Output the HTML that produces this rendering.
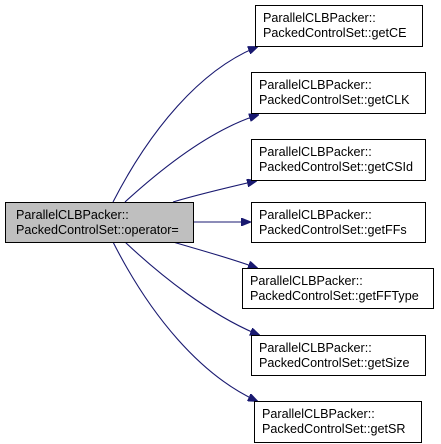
<!DOCTYPE html>
<html><head><meta charset="utf-8"><style>
html,body{margin:0;padding:0;background:#fff;}
svg{display:block;}
text{font-family:"Liberation Sans",Arial,sans-serif;font-size:12.6px;fill:#000;}
</style></head><body>
<svg width="441" height="444" viewBox="0 0 441 444" xmlns="http://www.w3.org/2000/svg">
<defs><marker id="a" markerWidth="10" markerHeight="8" refX="9" refY="4" orient="auto" markerUnits="userSpaceOnUse"><polygon points="0,0 10,4 0,8" fill="#191970" stroke="#191970"/></marker></defs>
<g fill="none" stroke="#191970" stroke-width="1.1">
<path d="M113,202 C150,130 200,70 257,47" marker-end="url(#a)"/>
<path d="M125,202 C160,170 210,130 258,115" marker-end="url(#a)"/>
<path d="M173,202 C200,194 230,187 256,181" marker-end="url(#a)"/>
<path d="M193,222 L250,222" marker-end="url(#a)"/>
<path d="M173,242 C200,250 230,258 257,268" marker-end="url(#a)"/>
<path d="M125,242 C160,275 210,315 259,335" marker-end="url(#a)"/>
<path d="M113,242 C150,315 200,375 257,401" marker-end="url(#a)"/>
</g>
<g stroke="#000" stroke-width="1">
<rect x="5.5" y="202.5" width="188" height="40" fill="#bfbfbf"/>
<rect x="255.5" y="5.5" width="167" height="41" fill="#fff"/>
<rect x="251.5" y="72.5" width="174" height="41" fill="#fff"/>
<rect x="251.5" y="139.5" width="174" height="41" fill="#fff"/>
<rect x="251.5" y="202.5" width="174" height="40" fill="#fff"/>
<rect x="242.5" y="268.5" width="191" height="40" fill="#fff"/>
<rect x="251.5" y="335.5" width="174" height="40" fill="#fff"/>
<rect x="254.5" y="401.5" width="167" height="41" fill="#fff"/>
</g>
<text x="16" y="219">ParallelCLBPacker::</text><text x="16" y="234">PackedControlSet::operator=</text>
<text x="263" y="22">ParallelCLBPacker::</text><text x="263" y="37">PackedControlSet::getCE</text>
<text x="259" y="89">ParallelCLBPacker::</text><text x="259" y="104">PackedControlSet::getCLK</text>
<text x="259" y="156">ParallelCLBPacker::</text><text x="259" y="171">PackedControlSet::getCSId</text>
<text x="259" y="219">ParallelCLBPacker::</text><text x="259" y="234">PackedControlSet::getFFs</text>
<text x="250" y="285">ParallelCLBPacker::</text><text x="250" y="300">PackedControlSet::getFFType</text>
<text x="259" y="352">ParallelCLBPacker::</text><text x="259" y="367">PackedControlSet::getSize</text>
<text x="262" y="418">ParallelCLBPacker::</text><text x="262" y="433">PackedControlSet::getSR</text>
</svg>
</body></html>
